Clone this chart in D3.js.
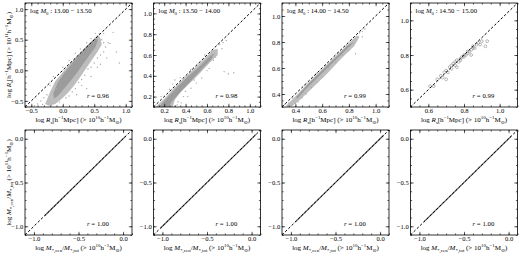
<!DOCTYPE html>
<html><head><meta charset="utf-8">
<script src="https://cdn.jsdelivr.net/npm/d3@7"></script>
<style>html,body{margin:0;padding:0;background:#fff}svg{display:block}</style>
</head><body><svg id="c" width="520" height="256"></svg>
<script>
// ---------------- data ----------------
const massBins = ["13.00 − 13.50", "13.50 − 14.00", "14.00 − 14.50", "14.50 − 15.00"];
const rTop = ["0.96", "0.98", "0.99", "0.99"];
const rBottom = ["1.00", "1.00", "1.00", "1.00"];
const topDomains = [[-0.6, 1.1], [0.1, 1.1], [0.3, 1.1], [0.5, 1.1]];
const bottomDomain = [-1.1, 0.1];
const topTicks = [[-0.5, 0.0, 0.5, 1.0], [0.2, 0.4, 0.6, 0.8, 1.0], [0.4, 0.6, 0.8, 1.0], [0.6, 0.8, 1.0]];
const topMinorStep = [0.1, 0.05, 0.05, 0.05];
const bottomTicks = [-1.0, -0.5, 0.0];

// dense region outlines (outer, lighter) and cores (inner, darker)
const bandOuter = [
  [[-0.28,-0.55],[-0.2,-0.35],[-0.12,-0.18],[0.0,-0.03],[0.1,0.09],[0.2,0.2],[0.3,0.31],[0.4,0.42],[0.5,0.52],[0.56,0.58],[0.6,0.52],[0.62,0.42],[0.55,0.3],[0.45,0.15],[0.35,0.0],[0.27,-0.12],[0.18,-0.25],[0.08,-0.37],[-0.02,-0.47],[-0.12,-0.55],[-0.22,-0.58]],
  [[0.12,0.1],[0.2,0.18],[0.3,0.29],[0.4,0.39],[0.5,0.49],[0.6,0.59],[0.66,0.65],[0.7,0.66],[0.7,0.6],[0.62,0.52],[0.52,0.41],[0.42,0.31],[0.35,0.24],[0.3,0.17],[0.28,0.1]],
  [[0.33,0.31],[0.4,0.38],[0.5,0.49],[0.6,0.59],[0.7,0.69],[0.8,0.79],[0.86,0.85],[0.88,0.84],[0.84,0.77],[0.74,0.67],[0.64,0.56],[0.54,0.46],[0.44,0.36],[0.38,0.31],[0.34,0.3]],
  []
];
const bandInner = [
  [[-0.15,-0.38],[-0.08,-0.2],[0.02,-0.05],[0.12,0.08],[0.22,0.2],[0.32,0.32],[0.42,0.43],[0.52,0.52],[0.56,0.5],[0.52,0.38],[0.42,0.24],[0.32,0.1],[0.22,-0.05],[0.12,-0.18],[0.02,-0.3],[-0.08,-0.42],[-0.14,-0.46]],
  [[0.15,0.1],[0.22,0.18],[0.32,0.29],[0.42,0.39],[0.52,0.48],[0.62,0.58],[0.67,0.62],[0.64,0.56],[0.54,0.45],[0.44,0.34],[0.34,0.23],[0.27,0.15],[0.24,0.1]],
  [[0.4,0.37],[0.5,0.48],[0.6,0.58],[0.7,0.68],[0.8,0.78],[0.84,0.8],[0.78,0.74],[0.68,0.64],[0.58,0.54],[0.48,0.44],[0.42,0.37]],
  []
];
// individual scattered haloes
const scatter = [
  [[-0.35,-0.5],[-0.3,-0.45],[-0.25,-0.4],[-0.4,-0.55],[-0.32,-0.56],[-0.18,-0.57],[-0.05,-0.52],[0.05,-0.45],[0.1,-0.42],[0.15,-0.35],[0.2,-0.3],[0.25,-0.2],[0.3,-0.15],[0.35,-0.08],[0.4,0.02],[0.45,0.05],[0.5,0.12],[0.55,0.2],[0.6,0.25],[0.65,0.3],[0.68,0.38],[0.72,0.45],[0.75,0.44],[0.62,0.5],[0.58,0.6],[0.52,0.6],[0.45,0.52],[0.38,0.45],[0.65,0.6],[0.8,0.62],[0.85,0.3],[0.9,0.12],[0.55,0.05],[0.7,0.2],[0.3,-0.25],[0.22,-0.4],[-0.1,-0.3],[-0.2,-0.25],[-0.15,-0.1],[0.0,0.05],[0.1,0.16],[0.2,0.28],[0.28,0.35],[0.45,-0.1],[0.6,0.1],[-0.45,-0.58],[0.38,-0.3],[0.65,0.45],[0.5,0.45],[0.32,0.22]],
  [[0.72,0.7],[0.75,0.72],[0.78,0.74],[0.7,0.7],[0.74,0.66],[0.68,0.58],[0.76,0.44],[0.8,0.42],[0.6,0.45],[0.55,0.38],[0.5,0.33],[0.45,0.28],[0.4,0.25],[0.38,0.2],[0.33,0.15],[0.32,0.12],[0.3,0.36],[0.28,0.32],[0.25,0.27],[0.35,0.38],[0.45,0.46],[0.58,0.6],[0.64,0.63],[0.18,0.12],[0.17,0.2],[0.36,0.14],[0.48,0.36],[0.56,0.5],[0.66,0.55],[0.62,0.47],[0.85,0.43],[0.42,0.2],[0.3,0.11],[0.38,0.28]],
  [[0.32,0.32],[0.35,0.33],[0.37,0.31],[0.4,0.33],[0.42,0.34],[0.45,0.37],[0.48,0.4],[0.52,0.45],[0.56,0.49],[0.6,0.53],[0.65,0.6],[0.7,0.64],[0.75,0.7],[0.8,0.74],[0.85,0.71],[0.9,0.88],[0.88,0.87],[0.92,0.9],[0.56,0.56],[0.63,0.62],[0.72,0.72],[0.47,0.47],[0.38,0.37],[0.82,0.82],[0.9,0.84],[0.78,0.77],[0.55,0.55]],
  [[0.61,0.62],[0.63,0.62],[0.65,0.66],[0.67,0.68],[0.68,0.67],[0.69,0.70],[0.70,0.71],[0.71,0.70],[0.72,0.73],[0.73,0.72],[0.73,0.74],[0.74,0.75],[0.75,0.74],[0.75,0.76],[0.76,0.77],[0.77,0.76],[0.78,0.78],[0.78,0.77],[0.79,0.79],[0.80,0.79],[0.80,0.80],[0.81,0.80],[0.82,0.81],[0.82,0.82],[0.83,0.82],[0.84,0.83],[0.85,0.84],[0.85,0.85],[0.86,0.84],[0.87,0.86],[0.88,0.87],[0.89,0.86],[0.90,0.88],[0.92,0.85],[0.93,0.88],[0.70,0.66],[0.76,0.73],[0.84,0.80]]
];
// bottom row: points lie on the one-to-one line; extent of the point run
const bottomRun = [[[-0.88,-0.88],[0.03,0.03]], [[-1.02,-1.02],[0.05,0.05]], [[-0.95,-0.95],[0.04,0.04]], [[-0.95,-0.95],[0.03,0.03]]];

// ---------------- layout ----------------
const svg = d3.select("#c");
const lefts = [25, 153.5, 282, 410.5];
const W = 107;
const rows = [{top: 3, h: 104}, {top: 130, h: 105}];
const FONT = "'Liberation Serif', 'DejaVu Serif', serif";
const fmt = d3.format(".1f");

function rich(textSel, parts, size) {
  let off = 0;
  parts.forEach(([t, k]) => {
    const ts = textSel.append("tspan").text(t);
    let target = 0, fs = size;
    if (k === "sub") { target = size * 0.3; fs = size * 0.7; }
    if (k === "sup") { target = -size * 0.4; fs = size * 0.7; }
    ts.attr("dy", target - off).attr("font-size", fs);
    if (k === "it") ts.attr("font-style", "italic");
    off = target;
  });
}
const sunMark = "⊙";
function labelParts(kind, power) {
  const tail = [[" (> 10", "n"], [power, "sup"], ["h", "n"], ["−1", "sup"], ["M", "n"], [sunMark, "sub"], [")", "n"]];
  if (kind === "R") return [["log ", "n"], ["R", "it"], ["s", "sub"], ["[h", "n"], ["−1", "sup"], ["Mpc]", "n"]].concat(tail);
  return [["log ", "n"], ["M", "it"], ["*,cen", "sub"], ["/", "n"], ["M", "it"], ["*,tot", "sub"]].concat(tail);
}

function panel(row, col, domain, ticks, minorStep, drawData) {
  const x0 = lefts[col], y0 = rows[row].top, H = rows[row].h;
  const x = d3.scaleLinear().domain(domain).range([x0, x0 + W]);
  const y = d3.scaleLinear().domain(domain).range([y0 + H, y0]);
  const g = svg.append("g");
  const clip = "clip" + row + col;
  svg.append("clipPath").attr("id", clip).append("rect").attr("x", x0).attr("y", y0).attr("width", W).attr("height", H);
  const pg = g.append("g").attr("clip-path", `url(#${clip})`);
  drawData(pg, x, y);
  // one-to-one dashed line
  pg.append("line").attr("x1", x(domain[0])).attr("y1", y(domain[0])).attr("x2", x(domain[1])).attr("y2", y(domain[1]))
    .attr("stroke", "#000").attr("stroke-width", 1).attr("stroke-dasharray", "2.5,2");
  // minor ticks
  const minor = d3.range(Math.ceil(domain[0] / minorStep - 1e-6), Math.floor(domain[1] / minorStep + 1e-6) + 1).map(i => +(i * minorStep).toFixed(3));
  const mk = (axis, sc, tr, vals, size, lab) => {
    const a = axis(sc).tickValues(vals).tickSizeInner(-size).tickSizeOuter(0).tickPadding(lab ? 1.8 : 0).tickFormat(lab ? fmt : "");
    const ag = g.append("g").attr("transform", tr).call(a);
    ag.select(".domain").remove();
    ag.selectAll("line").attr("stroke", "#000").attr("stroke-width", 0.6);
    ag.selectAll("text").attr("font-family", FONT).attr("font-size", 6.6).attr("fill", "#000");
    return ag;
  };
  [[minor, 1.6, false], [ticks, 3.2, true]].forEach(([vals, s, lab]) => {
    mk(d3.axisBottom, x, `translate(0,${y0 + H})`, vals, s, lab);
    mk(d3.axisTop, x, `translate(0,${y0})`, vals, s, false);
    mk(d3.axisLeft, y, `translate(${x0},0)`, vals, s, lab);
    mk(d3.axisRight, y, `translate(${x0 + W},0)`, vals, s, false);
  });
  g.append("rect").attr("x", x0).attr("y", y0).attr("width", W).attr("height", H)
    .attr("fill", "none").attr("stroke", "#000").attr("stroke-width", 0.8);
  return {x0, y0, H, g};
}

const lineGen = d3.line();
for (let c = 0; c < 4; c++) {
  const p = panel(0, c, topDomains[c], topTicks[c], topMinorStep[c], (pg, x, y) => {
    if (bandOuter[c].length) pg.append("path").attr("d", lineGen(bandOuter[c].map(d => [x(d[0]), y(d[1])])) + "Z").attr("fill", "#bdbdbd");
    if (bandInner[c].length) pg.append("path").attr("d", lineGen(bandInner[c].map(d => [x(d[0]), y(d[1])])) + "Z").attr("fill", "#9c9c9c");
    const r = c === 3 ? 1.4 : 0.7;
    pg.selectAll(null).data(scatter[c]).join("circle").attr("cx", d => x(d[0])).attr("cy", d => y(d[1])).attr("r", r)
      .attr("fill", c === 3 ? "none" : "#a8a8a8").attr("stroke", c === 3 ? "#999" : "none").attr("stroke-width", 0.7);
  });
  const t1 = p.g.append("text").attr("x", p.x0 + 5).attr("y", p.y0 + 10).attr("font-family", FONT).attr("fill", "#000");
  rich(t1, [["log ", "n"], ["M", "it"], ["0", "sub"], [" : " + massBins[c], "n"]], 6.8);
  const t2 = p.g.append("text").attr("x", p.x0 + 62).attr("y", p.y0 + p.H - 9).attr("font-family", FONT).attr("fill", "#000");
  rich(t2, [["r", "it"], [" = " + rTop[c], "n"]], 6.8);
  const xl = p.g.append("text").attr("x", p.x0 + W / 2).attr("y", p.y0 + p.H + 15).attr("text-anchor", "middle").attr("font-family", FONT).attr("fill", "#000");
  rich(xl, labelParts("R", "10"), 7);
}
for (let c = 0; c < 4; c++) {
  const p = panel(1, c, bottomDomain, bottomTicks, 0.1, (pg, x, y) => {
    pg.append("line").attr("x1", x(bottomRun[c][0][0])).attr("y1", y(bottomRun[c][0][1]))
      .attr("x2", x(bottomRun[c][1][0])).attr("y2", y(bottomRun[c][1][1]))
      .attr("stroke", "#666").attr("stroke-width", 1.3);
  });
  const t2 = p.g.append("text").attr("x", p.x0 + 62).attr("y", p.y0 + p.H - 9).attr("font-family", FONT).attr("fill", "#000");
  rich(t2, [["r", "it"], [" = " + rBottom[c], "n"]], 6.8);
  const xl = p.g.append("text").attr("x", p.x0 + W / 2).attr("y", p.y0 + p.H + 15).attr("text-anchor", "middle").attr("font-family", FONT).attr("fill", "#000");
  rich(xl, labelParts("M", "10"), 7);
}
// y labels (left column only)
[[0, "R"], [1, "M"]].forEach(([r, k]) => {
  const cy = rows[r].top + rows[r].h / 2;
  const t = svg.append("text").attr("transform", `translate(11,${cy}) rotate(-90)`).attr("text-anchor", "middle").attr("font-family", FONT).attr("fill", "#000");
  rich(t, labelParts(k, "11"), 7);
});
</script></body></html>
